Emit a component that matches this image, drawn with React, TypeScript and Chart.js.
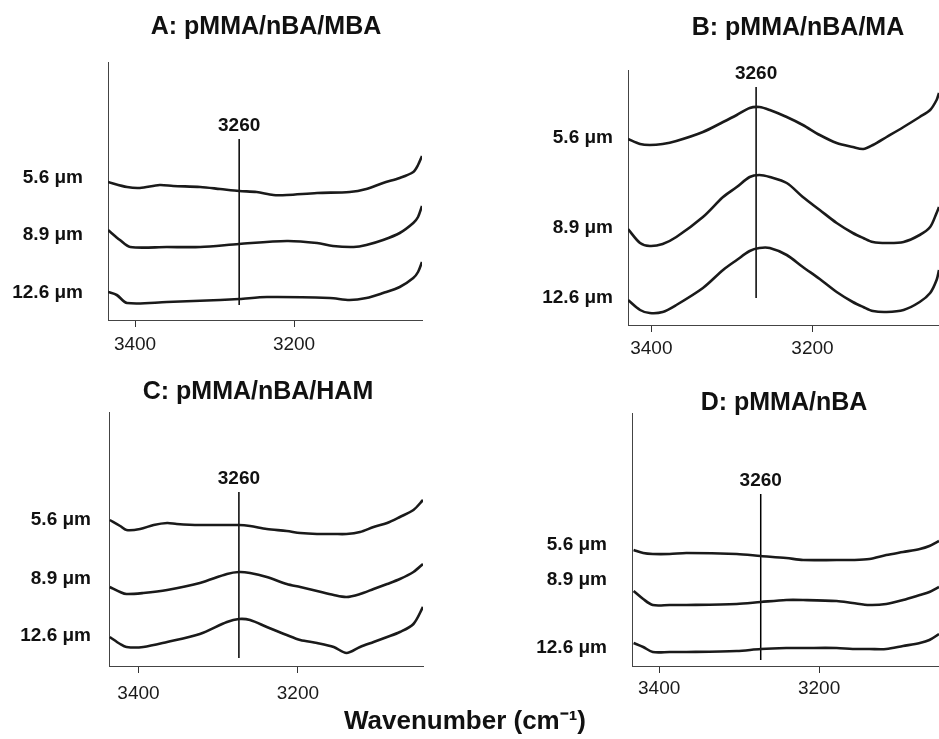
import React, { useEffect, useRef } from "react";
import { Chart, registerables } from "chart.js";

Chart.register(...registerables);

const FONT = "'Liberation Sans', Arial, Helvetica, sans-serif";

// ---------- shared text ----------
const THICKNESS_LABELS = ["5.6 μm", "8.9 μm", "12.6 μm"];
const MARKER_LABEL = "3260";
const X_TICKS = [3400, 3200];
const X_AXIS_TITLE = "Wavenumber (cm⁻¹)";

// ---------- Panel A: pMMA/nBA/MBA ----------
const A_TITLE = "A: pMMA/nBA/MBA";
const A_RANGE = [3039, 3434];
const A_WN_56 = [3434, 3410, 3394, 3369, 3352, 3318, 3293, 3269, 3247, 3226, 3209, 3171, 3130, 3109, 3088, 3067, 3050, 3044, 3039];
const A_ABS_56 = [1.38, 1.33, 1.32, 1.35, 1.34, 1.33, 1.31, 1.29, 1.28, 1.25, 1.25, 1.27, 1.28, 1.31, 1.37, 1.42, 1.48, 1.55, 1.64];
const A_WN_89 = [3434, 3419, 3406, 3360, 3318, 3269, 3209, 3171, 3151, 3125, 3109, 3088, 3067, 3050, 3044, 3039];
const A_ABS_89 = [0.90, 0.80, 0.73, 0.73, 0.73, 0.76, 0.79, 0.77, 0.74, 0.73, 0.75, 0.80, 0.87, 0.97, 1.03, 1.14];
const A_WN_126 = [3434, 3423, 3410, 3360, 3293, 3269, 3234, 3155, 3130, 3109, 3088, 3067, 3050, 3044, 3039];
const A_ABS_126 = [0.28, 0.25, 0.17, 0.18, 0.20, 0.21, 0.23, 0.22, 0.20, 0.22, 0.27, 0.33, 0.42, 0.48, 0.58];
const A_LABEL_AT = [1.42, 0.85, 0.27];
const A_MARKER = [3269, 0.15, 1.81];

// ---------- Panel B: pMMA/nBA/MA ----------
const B_TITLE = "B: pMMA/nBA/MA";
const B_RANGE = [3043, 3429];
const B_WN = [3429, 3414, 3402, 3386, 3369, 3336, 3311, 3294, 3278, 3266, 3253, 3232, 3212, 3191, 3170, 3150, 3137, 3125, 3108, 3087, 3067, 3054, 3046, 3043];
const B_ABS_56 = [1.86, 1.81, 1.80, 1.81, 1.84, 1.93, 2.03, 2.10, 2.17, 2.18, 2.15, 2.08, 2.00, 1.90, 1.82, 1.78, 1.76, 1.80, 1.88, 1.98, 2.08, 2.15, 2.25, 2.32];
const B_ABS_89 = [0.96, 0.82, 0.79, 0.81, 0.88, 1.08, 1.28, 1.38, 1.48, 1.50, 1.48, 1.42, 1.28, 1.15, 1.02, 0.92, 0.87, 0.83, 0.82, 0.83, 0.90, 0.98, 1.12, 1.18];
const B_ABS_126 = [0.25, 0.15, 0.12, 0.13, 0.20, 0.37, 0.55, 0.65, 0.74, 0.77, 0.77, 0.70, 0.58, 0.46, 0.33, 0.23, 0.18, 0.14, 0.13, 0.15, 0.23, 0.32, 0.45, 0.55];
const B_LABEL_AT = [1.87, 0.97, 0.27];
const B_MARKER = [3270, 0.27, 2.38];

// ---------- Panel C: pMMA/nBA/HAM ----------
const C_TITLE = "C: pMMA/nBA/HAM";
const C_RANGE = [3043, 3437];
const C_WN_56 = [3436, 3423, 3415, 3398, 3381, 3364, 3352, 3323, 3274, 3260, 3239, 3214, 3197, 3176, 3155, 3139, 3122, 3105, 3088, 3072, 3055, 3043];
const C_ABS_56 = [1.46, 1.40, 1.36, 1.37, 1.41, 1.43, 1.42, 1.41, 1.41, 1.40, 1.37, 1.35, 1.33, 1.32, 1.32, 1.32, 1.34, 1.39, 1.43, 1.49, 1.56, 1.66];
const C_WN = [3436, 3423, 3415, 3394, 3364, 3323, 3289, 3274, 3260, 3239, 3214, 3197, 3176, 3155, 3139, 3122, 3105, 3088, 3072, 3055, 3043];
const C_ABS_89 = [0.79, 0.74, 0.72, 0.73, 0.76, 0.83, 0.92, 0.94, 0.93, 0.89, 0.82, 0.79, 0.75, 0.71, 0.69, 0.72, 0.77, 0.82, 0.87, 0.94, 1.02];
const C_ABS_126 = [0.29, 0.22, 0.19, 0.19, 0.24, 0.32, 0.44, 0.47, 0.46, 0.39, 0.31, 0.26, 0.23, 0.19, 0.13, 0.19, 0.24, 0.29, 0.34, 0.42, 0.59];
const C_LABEL_AT = [1.46, 0.87, 0.30];
const C_MARKER = [3274, 0.08, 1.74];

// ---------- Panel D: pMMA/nBA ----------
const D_TITLE = "D: pMMA/nBA";
const D_RANGE = [3050, 3434];
const D_WN = [3432, 3420, 3408, 3387, 3366, 3303, 3273, 3241, 3220, 3178, 3158, 3137, 3116, 3095, 3074, 3062, 3050];
const D_ABS_56 = [1.16, 1.13, 1.12, 1.12, 1.13, 1.12, 1.10, 1.08, 1.06, 1.06, 1.06, 1.07, 1.11, 1.14, 1.17, 1.20, 1.25];
const D_ABS_89 = [0.75, 0.67, 0.61, 0.61, 0.61, 0.62, 0.64, 0.66, 0.66, 0.65, 0.63, 0.61, 0.62, 0.66, 0.71, 0.74, 0.79];
const D_ABS_126 = [0.23, 0.19, 0.14, 0.14, 0.14, 0.15, 0.17, 0.18, 0.18, 0.18, 0.17, 0.17, 0.17, 0.20, 0.23, 0.26, 0.32];
const D_LABEL_AT = [1.21, 0.86, 0.18];
const D_MARKER = [3273, 0.06, 1.72];

// ---------- layout (pixels) ----------
type Layout = {
  x: number; y: number; w: number; h: number;
  yAxisW: number; xAxisH: number; padTop: number; padRight: number;
  yMax: number; labelPad: number; tickPad: number;
  titleX: number; titleY: number;
};

const LAYOUT_A: Layout = { x: 0, y: 0, w: 470, h: 370, yAxisW: 108, xAxisH: 50, padTop: 62, padRight: 48, yMax: 2.58, labelPad: 25, tickPad: 6, titleX: 266, titleY: 27 };
const LAYOUT_B: Layout = { x: 470, y: 0, w: 469, h: 370, yAxisW: 158, xAxisH: 45, padTop: 70, padRight: 0, yMax: 2.55, labelPad: 15, tickPad: 5, titleX: 328, titleY: 28 };
const LAYOUT_C: Layout = { x: 0, y: 370, w: 470, h: 369, yAxisW: 109, xAxisH: 73, padTop: 42, padRight: 47, yMax: 2.54, labelPad: 18, tickPad: 9, titleX: 258, titleY: 22 };
const LAYOUT_D: Layout = { x: 470, y: 370, w: 469, h: 369, yAxisW: 162, xAxisH: 73, padTop: 43, padRight: 0, yMax: 2.53, labelPad: 25, tickPad: 4, titleX: 314, titleY: 33 };

type PanelDef = {
  title: string;
  range: number[];
  curves: { wn: number[]; abs: number[] }[];
  labelAt: number[];
  marker: number[];
  layout: Layout;
};

const PANELS: PanelDef[] = [
  { title: A_TITLE, range: A_RANGE, curves: [{ wn: A_WN_56, abs: A_ABS_56 }, { wn: A_WN_89, abs: A_ABS_89 }, { wn: A_WN_126, abs: A_ABS_126 }], labelAt: A_LABEL_AT, marker: A_MARKER, layout: LAYOUT_A },
  { title: B_TITLE, range: B_RANGE, curves: [{ wn: B_WN, abs: B_ABS_56 }, { wn: B_WN, abs: B_ABS_89 }, { wn: B_WN, abs: B_ABS_126 }], labelAt: B_LABEL_AT, marker: B_MARKER, layout: LAYOUT_B },
  { title: C_TITLE, range: C_RANGE, curves: [{ wn: C_WN_56, abs: C_ABS_56 }, { wn: C_WN, abs: C_ABS_89 }, { wn: C_WN, abs: C_ABS_126 }], labelAt: C_LABEL_AT, marker: C_MARKER, layout: LAYOUT_C },
  { title: D_TITLE, range: D_RANGE, curves: [{ wn: D_WN, abs: D_ABS_56 }, { wn: D_WN, abs: D_ABS_89 }, { wn: D_WN, abs: D_ABS_126 }], labelAt: D_LABEL_AT, marker: D_MARKER, layout: LAYOUT_D },
];

const panelDecor = {
  id: "panelDecor",
  afterDatasetsDraw(chart: any, _args: any, opts: any) {
    const { ctx, scales } = chart;
    const mx = scales.x.getPixelForValue(opts.markerAt);
    const my = scales.y.getPixelForValue(opts.markerTop);
    ctx.save();
    ctx.fillStyle = "#111";
    ctx.textAlign = "center";
    ctx.textBaseline = "middle";
    ctx.font = `bold 19px ${FONT}`;
    ctx.fillText(opts.markerLabel, mx, my - 13);
    ctx.font = `bold 25px ${FONT}`;
    ctx.fillText(opts.title, opts.titleX, opts.titleY);
    ctx.restore();
  },
};

function PanelChart({ panel }: { panel: PanelDef }) {
  const ref = useRef<HTMLCanvasElement>(null);
  useEffect(() => {
    const L = panel.layout;
    const tickPairs = panel.labelAt.map((v, i) => ({ v, label: THICKNESS_LABELS[i] })).sort((a, b) => a.v - b.v);
    const datasets: any[] = panel.curves.map((c, i) => ({
      label: THICKNESS_LABELS[i],
      data: c.wn.map((w, j) => ({ x: w, y: c.abs[j] })),
      borderColor: "#1a1a1a",
      borderWidth: 2.6,
      pointRadius: 0,
      tension: 0.3,
      fill: false,
    }));
    datasets.push({
      label: MARKER_LABEL,
      data: [
        { x: panel.marker[0], y: panel.marker[1] },
        { x: panel.marker[0], y: panel.marker[2] },
      ],
      borderColor: "#000",
      borderWidth: 1.5,
      pointRadius: 0,
      tension: 0,
      fill: false,
    });
    const chart = new Chart(ref.current as HTMLCanvasElement, {
      type: "line",
      data: { datasets },
      plugins: [panelDecor as any],
      options: {
        animation: false,
        responsive: false,
        maintainAspectRatio: false,
        layout: { padding: { top: L.padTop, right: L.padRight, left: 0, bottom: 0 } },
        plugins: {
          legend: { display: false },
          tooltip: { enabled: false },
          title: { display: false },
          panelDecor: {
            markerAt: panel.marker[0],
            markerTop: panel.marker[2],
            markerLabel: MARKER_LABEL,
            title: panel.title,
            titleX: L.titleX,
            titleY: L.titleY,
          },
        } as any,
        scales: {
          x: {
            type: "linear",
            reverse: true,
            min: panel.range[0],
            max: panel.range[1],
            afterBuildTicks: (s: any) => {
              s.ticks = X_TICKS.map((v) => ({ value: v }));
            },
            afterFit: (s: any) => {
              s.height = L.xAxisH;
            },
            ticks: {
              callback: (v: any) => String(v),
              font: { family: FONT, size: 19 },
              color: "#1a1a1a",
              padding: L.tickPad,
              maxRotation: 0,
              autoSkip: false,
            },
            grid: { display: true, drawOnChartArea: false, drawTicks: true, tickLength: 7, color: "#333", lineWidth: 1 },
            border: { display: true, dash: [1, 2], color: "#444", width: 1 },
          },
          y: {
            type: "linear",
            min: 0,
            max: L.yMax,
            afterBuildTicks: (s: any) => {
              s.ticks = tickPairs.map((t) => ({ value: t.v }));
            },
            afterFit: (s: any) => {
              s.width = L.yAxisW;
            },
            ticks: {
              callback: (_v: any, i: number) => tickPairs[i].label,
              font: { family: FONT, size: 19, weight: "bold" },
              color: "#111",
              padding: L.labelPad,
              autoSkip: false,
            },
            grid: { display: false, drawTicks: false, tickLength: 0 },
            border: { display: true, dash: [1, 2], color: "#444", width: 1 },
          },
        },
      } as any,
    });
    return () => chart.destroy();
  }, [panel]);
  const L = panel.layout;
  return (
    <canvas
      ref={ref}
      width={L.w}
      height={L.h}
      style={{ position: "absolute", left: L.x, top: L.y, width: L.w, height: L.h, display: "block" }}
    />
  );
}

export default function App() {
  return (
    <div style={{ position: "absolute", left: 0, top: 0, width: 939, height: 739, background: "#fff", overflow: "hidden" }}>
      {PANELS.map((p, i) => (
        <PanelChart key={i} panel={p} />
      ))}
      <div
        style={{
          position: "absolute",
          left: 165,
          top: 705,
          width: 600,
          textAlign: "center",
          fontFamily: FONT,
          fontWeight: "bold",
          fontSize: 26,
          lineHeight: "30px",
          color: "#111",
          whiteSpace: "nowrap",
        }}
      >
        {X_AXIS_TITLE}
      </div>
    </div>
  );
}
